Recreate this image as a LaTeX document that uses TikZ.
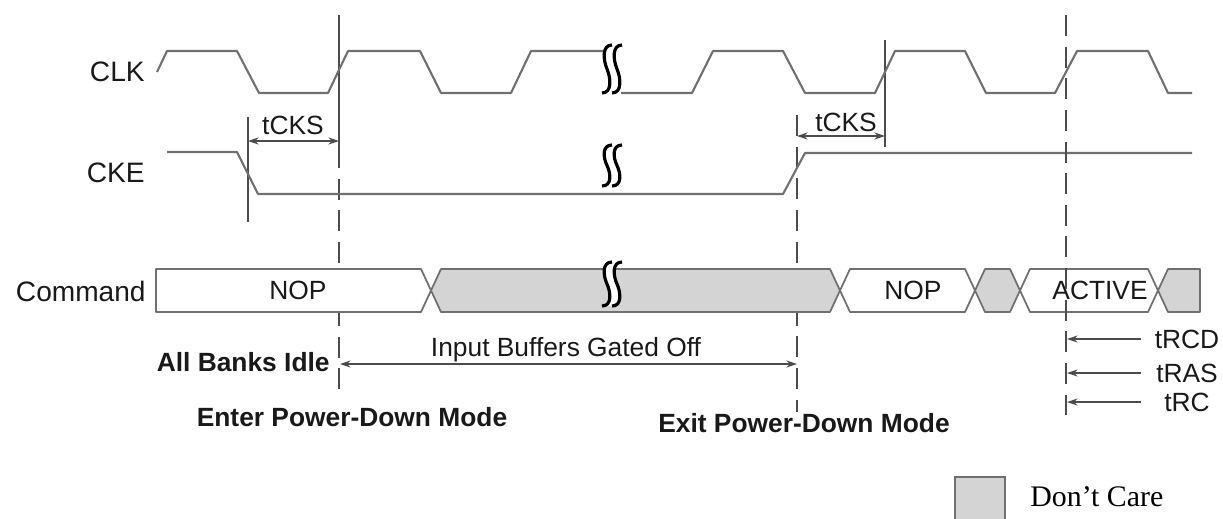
\documentclass[tikz,border=0pt]{standalone}
\usepackage{fontspec}
\setmainfont{Liberation Sans}
\newfontfamily\legendfont{Liberation Serif}
\usetikzlibrary{arrows.meta}

\definecolor{wavegray}{RGB}{112,112,112}
\definecolor{caregray}{RGB}{212,212,212}

% break mark: x, top, bottom
\newcommand{\sigbreak}[3]{%
  \fill[white] (#1+5,#2) .. controls (#1-5,#2) and (#1-4,{#2+0.3*(#3-#2)}) .. (#1,{0.5*(#2+#3)})
    .. controls (#1+4,{#2+0.7*(#3-#2)}) and (#1+5,#3) .. (#1-5,#3)
    -- (#1+5,#3) .. controls (#1+15,#3) and (#1+14,{#2+0.7*(#3-#2)}) .. (#1+10,{0.5*(#2+#3)})
    .. controls (#1+6,{#2+0.3*(#3-#2)}) and (#1+5,#2) .. (#1+15,#2) -- cycle;
  \draw[line width=1.8pt] (#1+5,#2) .. controls (#1-5,#2) and (#1-4,{#2+0.3*(#3-#2)}) .. (#1,{0.5*(#2+#3)})
    .. controls (#1+4,{#2+0.7*(#3-#2)}) and (#1+5,#3) .. (#1-5,#3);
  \draw[line width=1.8pt] (#1+15,#2) .. controls (#1+5,#2) and (#1+6,{#2+0.3*(#3-#2)}) .. (#1+10,{0.5*(#2+#3)})
    .. controls (#1+14,{#2+0.7*(#3-#2)}) and (#1+15,#3) .. (#1+5,#3);
}

\begin{document}
\begin{tikzpicture}
  [x=0.02cm,y=-0.02cm,
   lbl/.style={inner sep=0pt,text depth=0pt,text=black!90,font=\fontsize{15}{18}\selectfont},
   sig/.style={lbl,anchor=east,font=\fontsize{16}{19}\selectfont},
   bold/.style={lbl,font=\fontsize{15}{18}\selectfont\bfseries},
   wave/.style={draw=wavegray,line width=1.2pt,line join=round},
   bus/.style={draw=wavegray,line width=1pt,line join=round},
   tick/.style={draw=black!70,line width=0.7pt},
   guide/.style={tick,dash pattern=on 12pt off 6pt},
   dim/.style={draw=black!70,line width=0.7pt,{Stealth[length=6pt,width=4pt]}-{Stealth[length=6pt,width=4pt]}},
   tip/.style={draw=black!70,line width=0.7pt,-{Stealth[length=6pt,width=4pt]}}]
  \useasboundingbox (0,0) rectangle (1223,518);

  % signal names
  \node[sig] (clk) at (145,72) {CLK};
  \node[sig] (cke) at (145,173) {CKE};
  \node[sig] (cmd) at (146,291) {Command};

  % guide lines
  \draw[tick] (248,117) -- (248,222);
  \draw[tick] (339,15) -- (339,147);
  \draw[guide] (339,147) -- (339,400);
  \draw[tick] (885,40) -- (885,147);
  \draw[guide] (797,115) -- (797,412);

  % CLK
  \draw[wave] (157,72) -- (167,51) -- (237,51) -- (259,93) -- (328,93) -- (348,51)
    -- (420,51) -- (441,93) -- (511,93) -- (531,51) -- (603,51);
  \draw[wave] (621,93) -- (692,93) -- (713,51) -- (783,51) -- (805,93) -- (875,93)
    -- (895,51) -- (965,51) -- (986,93) -- (1055,93) -- (1077,51) -- (1148,51)
    -- (1168,93) -- (1192,93);
  \sigbreak{607}{45}{93}

  % CKE
  \draw[wave] (167,152) -- (237,152) -- (258,194) -- (783,194) -- (805,153) -- (1192,153);
  \sigbreak{607}{145}{186}

  % Command bus
  \filldraw[bus,fill=white] (156,269) -- (421,269) -- (431,290.5) -- (421,312) -- (156,312) -- cycle;
  \filldraw[bus,fill=caregray] (431,290.5) -- (441,269) -- (830,269) -- (840,290.5) -- (830,312) -- (441,312) -- cycle;
  \filldraw[bus,fill=white] (840,290.5) -- (850,269) -- (965,269) -- (975,290.5) -- (965,312) -- (850,312) -- cycle;
  \filldraw[bus,fill=caregray] (975,290.5) -- (985,269) -- (1010,269) -- (1020,290.5) -- (1010,312) -- (985,312) -- cycle;
  \filldraw[bus,fill=white] (1020,290.5) -- (1030,269) -- (1148,269) -- (1158,290.5) -- (1148,312) -- (1030,312) -- cycle;
  \filldraw[bus,fill=caregray] (1158,290.5) -- (1168,269) -- (1200,269) -- (1200,312) -- (1168,312) -- cycle;
  \sigbreak{607}{262}{306}
  \node[lbl] (nop1) at (298,290) {NOP};
  \node[lbl] (nop2) at (913,290) {NOP};
  \node[lbl] (act) at (1100,290) {ACTIVE};

  \draw[guide] (1066,15) -- (1066,415);

  % setup times
  \coordinate (s1a) at (248,141);
  \coordinate (s1b) at (339,141);
  \coordinate (s2a) at (797,136);
  \coordinate (s2b) at (885,136);
  \draw[dim] (s1a) -- (s1b);
  \draw[dim] (s2a) -- (s2b);
  \node[lbl] (tcks1) at (293,125) {tCKS};
  \node[lbl] (tcks2) at (846,122) {tCKS};

  % power-down span
  \coordinate (pdin) at (340,364);
  \coordinate (pdout) at (797,364);
  \draw[dim] (pdin) -- (pdout);
  \node[lbl] (gate) at (566,347) {Input Buffers Gated Off};
  \node[bold,anchor=east] (idle) at (330,362) {All Banks Idle};
  \node[bold] (enter) at (352,417) {Enter Power-Down Mode};
  \node[bold] (exit) at (804,423) {Exit Power-Down Mode};

  % row timings
  \foreach \lab/\yy in {tRCD/339,tRAS/373,tRC/402} {
    \coordinate (\lab-s) at (1141,\yy);
    \coordinate (\lab-e) at (1067,\yy);
    \draw[tip] (\lab-s) -- (\lab-e);
    \node[lbl] (\lab) at (1187,\yy) {\lab};
  }

  % legend
  \filldraw[draw=wavegray,line width=1pt,fill=caregray] (955,477) rectangle (1005,525);
  \node[inner sep=0pt,anchor=west,font=\legendfont\fontsize{17}{20}\selectfont] (dc) at (1030,497) {Don’t Care};
\end{tikzpicture}
\end{document}
